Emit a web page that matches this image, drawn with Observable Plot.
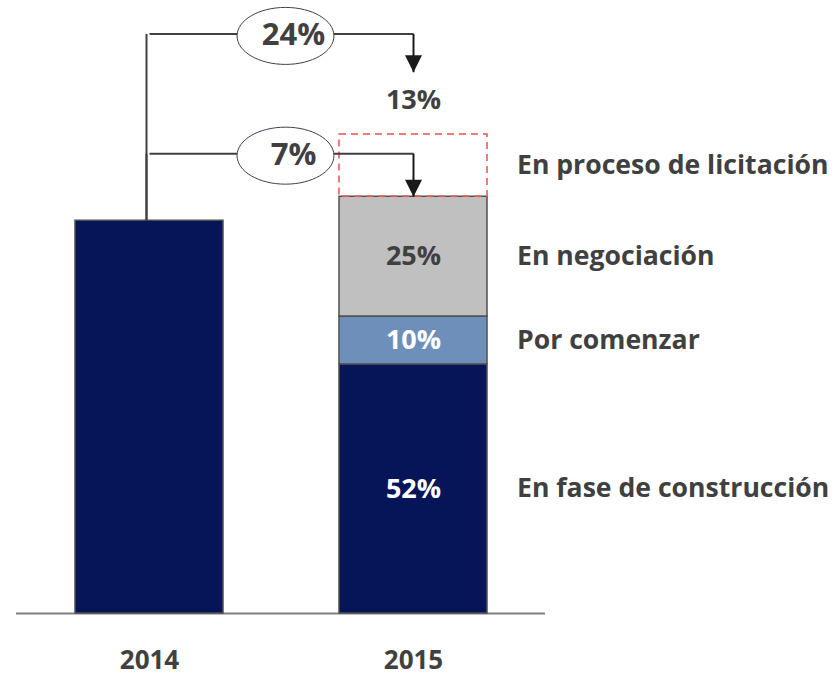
<!DOCTYPE html>
<html>
<head>
<meta charset="utf-8">
<script src="https://cdn.jsdelivr.net/npm/d3@7"></script>
<script src="https://cdn.jsdelivr.net/npm/@observablehq/plot@0.6"></script>
<style>
  html, body { margin: 0; padding: 0; background: #fff; }
</style>
</head>
<body>
<div id="chart"></div>
<script>
// ---- data ----
const years = ["2014", "2015"];
const value2014 = 82;                       // height of the 2014 bar (same units as 2015 %)
const segments = ["En fase de construcción", "Por comenzar", "En negociación", "En proceso de licitación"];
const values2015 = [52, 10, 25, 13];
const segmentLabels = ["52%", "10%", "25%", "13%"];
const segmentColors = ["#061557", "#6f8fbb", "#c0c0c0"];
const changes = ["24%", "7%"];
const changeLevels = [121, 96];             // level of each connector
const changeTargets = [113, 87];            // where each arrow points

// ---- derived tables ----
let acc = 0;
const stack = segments.map((s, i) => {
  const row = {year: "2015", segment: s, y1: acc, y2: acc + values2015[i], label: segmentLabels[i], i};
  acc += values2015[i];
  return row;
});
const solid = stack.slice(0, 3);
const pending = stack.slice(3);
const arrows = changes.map((c, i) => ({label: c, from: "2014", to: "2015", level: changeLevels[i], target: changeTargets[i]}));
const mid = d => (d.y1 + d.y2) / 2;

const downTriangle = {
  draw(ctx, size) {
    const r = Math.sqrt(size / Math.PI);
    ctx.moveTo(-r, -r); ctx.lineTo(r, -r); ctx.lineTo(0, r); ctx.closePath();
  }
};
const ellipseSymbol = {
  draw(ctx, size) {
    const ry = Math.sqrt(size / Math.PI), rx = ry * 1.7, k = 0.5523;
    ctx.moveTo(rx, 0);
    ctx.bezierCurveTo(rx, k * ry, k * rx, ry, 0, ry);
    ctx.bezierCurveTo(-k * rx, ry, -rx, k * ry, -rx, 0);
    ctx.bezierCurveTo(-rx, -k * ry, -k * rx, -ry, 0, -ry);
    ctx.bezierCurveTo(k * rx, -ry, rx, -k * ry, rx, 0);
    ctx.closePath();
  }
};

const textColor = "#404040";
const chart = Plot.plot({
  width: 836,
  height: 679,
  marginLeft: 16,
  marginRight: 291,
  marginTop: 134,
  marginBottom: 66,
  style: {fontFamily: "'Open Sans', sans-serif", background: "white", overflow: "visible"},
  x: {type: "band", domain: years, paddingInner: 0.44, paddingOuter: 0.22, axis: null},
  y: {domain: [0, 100], axis: null},
  color: {domain: segments.slice(0, 3), range: segmentColors},
  marks: [
    Plot.ruleY([0], {stroke: "#808080", strokeWidth: 2}),
    Plot.barY([{year: "2014", value: value2014}], {x: "year", y: "value", fill: "#061557", stroke: "#505050", strokeWidth: 1.5}),
    Plot.barY(solid, {x: "year", y1: "y1", y2: "y2", fill: "segment", stroke: "#505050", strokeWidth: 1.5}),
    Plot.barY(pending, {x: "year", y1: "y1", y2: "y2", fill: "none", stroke: "#e8504a", strokeWidth: 1.5, strokeDasharray: "7,5"}),
    // connectors
    Plot.link(arrows, {x1: "from", x2: "from", y1: () => value2014, y2: "level", dx: -3, stroke: textColor, strokeWidth: 2}),
    Plot.link(arrows, {x1: "from", x2: "to", y1: "level", y2: "level", stroke: textColor, strokeWidth: 2}),
    Plot.link(arrows, {x1: "to", x2: "to", y1: "level", y2: "target", stroke: "#1a1a1a", strokeWidth: 2}),
    Plot.dot(arrows, {x: "to", y: "target", dy: -8.5, symbol: downTriangle, r: 8.5, fill: "#1a1a1a", stroke: "none"}),
    Plot.dot(arrows, {x: "from", y: "level", dx: 136, dy: 2, symbol: ellipseSymbol, r: 28.5, fill: "white", stroke: textColor, strokeWidth: 1}),
    Plot.text(arrows, {x: "from", y: "level", dx: 144, dy: 1, text: "label", fontSize: 31, fontWeight: "bold", fill: textColor}),
    // segment labels
    Plot.text(solid, {filter: d => d.i < 2, x: "year", y: mid, text: "label", fontSize: 27, fontWeight: "bold", fill: "white"}),
    Plot.text(solid, {filter: d => d.i === 2, x: "year", y: mid, text: "label", fontSize: 27, fontWeight: "bold", fill: textColor}),
    Plot.text(pending, {x: "year", y: "y2", dy: -34, text: "label", fontSize: 27, fontWeight: "bold", fill: textColor}),
    Plot.text(stack, {x: "year", y: mid, dx: 103.5, textAnchor: "start", text: "segment", fontSize: 26.6, fontWeight: "bold", fill: textColor}),
    // year labels
    Plot.text(years, {x: d => d, y: () => 0, dy: 47, text: d => d, fontSize: 26, fontWeight: "bold", fill: textColor})
  ]
});
document.getElementById("chart").appendChild(chart);
</script>
</body>
</html>
